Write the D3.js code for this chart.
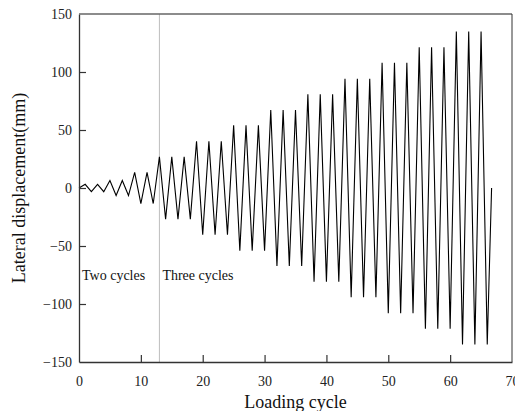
<!DOCTYPE html>
<html>
<head>
<meta charset="utf-8">
<script src="https://cdn.jsdelivr.net/npm/d3@7"></script>
<style>
  body { margin: 0; background: #fff; }
  text { font-family: "Liberation Serif", "DejaVu Serif", serif; }
</style>
</head>
<body>
<script>
var w = 515, h = 411;
var margin = {top: 14, right: 3, bottom: 49, left: 79};

// loading protocol: peak amplitude of each level and how many cycles it repeats
var levelAmps = [3.2, 6.5, 13.4, 26.8, 40.3, 54, 67.3, 80.7, 94.2, 108, 121.3, 134.8];
var levelCycles = [2, 2, 2, 3, 3, 3, 3, 3, 3, 3, 3, 3];
var xTicks = [0, 10, 20, 30, 40, 50, 60, 70];
var yTicks = [-150, -100, -50, 0, 50, 100, 150];
var dividerX = 13;
var endX = 66.7;

// build the displacement history: peak at odd step, trough at even step
var points = [[0, 0]];
var step = 1;
levelAmps.forEach(function (a, i) {
    for (var c = 0; c < levelCycles[i]; c++) {
        points.push([step, a]);
        points.push([step + 1, -a]);
        step += 2;
    }
});
points.push([endX, 0]);

var xScale = d3.scaleLinear()
    .domain([0, 70])
    .range([margin.left, w - margin.right]);
var yScale = d3.scaleLinear()
    .domain([-150, 150])
    .range([h - margin.bottom, margin.top]);

let svg = d3.select("body")
    .append("svg")
    .attr("width", w)
    .attr("height", h);

// divider between two-cycle and three-cycle levels
svg.append("line")
    .attr("x1", xScale(dividerX))
    .attr("x2", xScale(dividerX))
    .attr("y1", yScale(150))
    .attr("y2", yScale(-150))
    .attr("stroke", "#bdbdbd")
    .attr("stroke-width", 1);

svg.append("path")
    .datum(points)
    .attr("fill", "none")
    .attr("stroke", "#000")
    .attr("stroke-width", 1.1)
    .attr("stroke-linejoin", "miter")
    .attr("d", d3.line()
        .x(function (d) { return xScale(d[0]); })
        .y(function (d) { return yScale(d[1]); }));

var fmt = function (d) { return d < 0 ? "\u2212" + Math.abs(d) : d; };

var xAxis = svg.append("g")
    .attr("transform", "translate(0," + yScale(-150) + ")")
    .call(d3.axisBottom(xScale).tickValues(xTicks).tickSizeInner(-7).tickSizeOuter(0).tickPadding(14));
var yAxis = svg.append("g")
    .attr("transform", "translate(" + xScale(0) + ",0)")
    .call(d3.axisLeft(yScale).tickValues(yTicks).tickFormat(fmt).tickSizeInner(-7).tickSizeOuter(0).tickPadding(7));

[xAxis, yAxis].forEach(function (g) {
    g.select(".domain").attr("stroke", "#333").attr("stroke-width", 1.3);
    g.selectAll(".tick line").attr("stroke", "#333").attr("stroke-width", 1.2);
    g.selectAll(".tick text")
        .attr("fill", "#222")
        .attr("font-size", "14px")
        .attr("font-family", "Liberation Serif, serif");
});
xAxis.selectAll(".tick").filter(function (d) { return d === 0 || d === 70; }).select("line").remove();
yAxis.selectAll(".tick").filter(function (d) { return d === -150 || d === 150; }).select("line").remove();

// top and right frame
svg.append("line")
    .attr("x1", xScale(0)).attr("x2", xScale(70))
    .attr("y1", yScale(150)).attr("y2", yScale(150))
    .attr("stroke", "#666").attr("stroke-width", 1.4);
svg.append("line")
    .attr("x1", xScale(70)).attr("x2", xScale(70))
    .attr("y1", yScale(150)).attr("y2", yScale(-150))
    .attr("stroke", "#333").attr("stroke-width", 1);

svg.append("text")
    .text("Two cycles")
    .attr("x", xScale(0) + 3)
    .attr("y", yScale(-75) + 5)
    .attr("font-size", "14px")
    .attr("fill", "#111");
svg.append("text")
    .text("Three cycles")
    .attr("x", xScale(dividerX) + 3)
    .attr("y", yScale(-75) + 5)
    .attr("font-size", "14px")
    .attr("fill", "#111");

svg.append("text")
    .text("Loading cycle")
    .attr("text-anchor", "middle")
    .attr("x", xScale(35))
    .attr("y", 408)
    .attr("font-size", "18px")
    .attr("fill", "#111");
svg.append("text")
    .text("Lateral displacement(mm)")
    .attr("text-anchor", "middle")
    .attr("transform", "translate(25," + yScale(0) + ") rotate(-90)")
    .attr("font-size", "18px")
    .attr("fill", "#111");
</script>
</body>
</html>
